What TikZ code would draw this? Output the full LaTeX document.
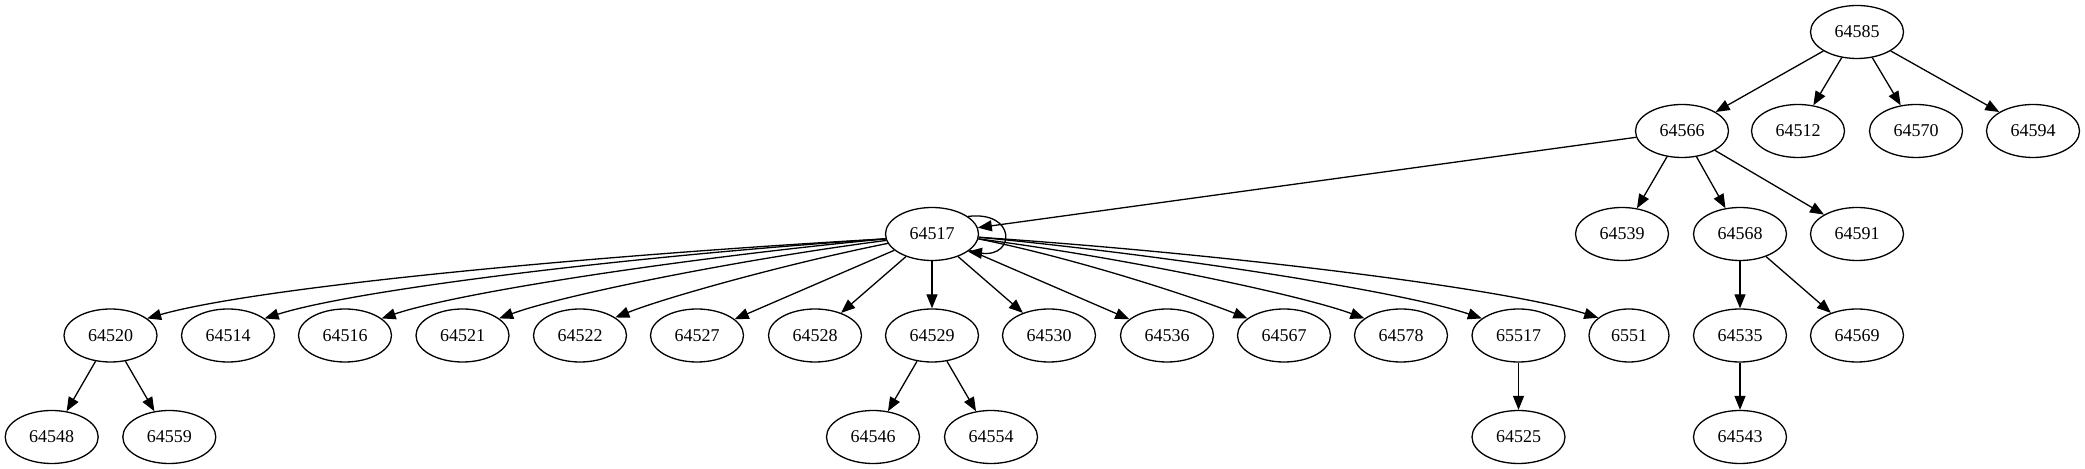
\documentclass[tikz,border=0pt]{standalone}
\usepackage{fontspec}
\setmainfont{Liberation Serif}
\usetikzlibrary{arrows.meta,shapes.geometric}
\begin{document}
\begin{tikzpicture}[x=0.5pt,y=-0.5pt,
  nd/.style={draw, ellipse, line width=0.65pt, minimum width=46.5pt, minimum height=26.5pt, inner sep=0pt, font=\fontsize{9}{10}\selectfont},
  ndn/.style={nd, minimum width=40pt},
  edge/.style={line width=0.65pt, -{Triangle[length=7pt,width=5.5pt]}}]
\fill[white] (0,0) rectangle (2085,469);
\useasboundingbox (0,0) rectangle (2085,469);
% rank 1
\node[nd] (n64585) at (1857,32) {64585};
% rank 2
\node[nd] (n64566) at (1682,131) {64566};
\node[nd] (n64512) at (1798,131) {64512};
\node[nd] (n64570) at (1916,131) {64570};
\node[nd] (n64594) at (2033,131) {64594};
% rank 3
\node[nd] (n64517) at (932,234) {64517};
\node[nd] (n64539) at (1622,234) {64539};
\node[nd] (n64568) at (1740,234) {64568};
\node[nd] (n64591) at (1857,234) {64591};
% rank 4
\node[nd] (n64520) at (110.5,335.5) {64520};
\node[nd] (n64514) at (228,335.5) {64514};
\node[nd] (n64516) at (345,335.5) {64516};
\node[nd] (n64521) at (462.5,335.5) {64521};
\node[nd] (n64522) at (580,335.5) {64522};
\node[nd] (n64527) at (697,335.5) {64527};
\node[nd] (n64528) at (815,335.5) {64528};
\node[nd] (n64529) at (932,335.5) {64529};
\node[nd] (n64530) at (1049,335.5) {64530};
\node[nd] (n64536) at (1167,335.5) {64536};
\node[nd] (n64567) at (1284,335.5) {64567};
\node[nd] (n64578) at (1401,335.5) {64578};
\node[nd] (n65517) at (1518.5,335.5) {65517};
\node[ndn] (n6551) at (1629,335.5) {6551};
\node[nd] (n64535) at (1740,335.5) {64535};
\node[nd] (n64569) at (1857,335.5) {64569};
% rank 5
\node[nd] (n64548) at (51.7,437) {64548};
\node[nd] (n64559) at (169.3,437) {64559};
\node[nd] (n64546) at (873,437) {64546};
\node[nd] (n64554) at (991,437) {64554};
\node[nd] (n64525) at (1518.5,437) {64525};
\node[nd] (n64543) at (1740,437) {64543};
% straight edges
\draw[edge] (n64585) -- (n64566);
\draw[edge] (n64585) -- (n64512);
\draw[edge] (n64585) -- (n64570);
\draw[edge] (n64585) -- (n64594);
\draw[edge] (n64566) -- (n64517);
\draw[edge] (n64566) -- (n64539);
\draw[edge] (n64566) -- (n64568);
\draw[edge] (n64566) -- (n64591);
\draw[edge] (n64568) -- (n64535);
\draw[edge] (n64568) -- (n64569);
\draw[edge] (n64535) -- (n64543);
\draw[edge] (n65517) -- (n64525);
\draw[edge] (n64520) -- (n64548);
\draw[edge] (n64520) -- (n64559);
\draw[edge] (n64529) -- (n64546);
\draw[edge] (n64529) -- (n64554);
\draw[edge] (n64517) -- (n64527);
\draw[edge] (n64517) -- (n64528);
\draw[edge] (n64517) -- (n64529);
\draw[edge] (n64517) -- (n64530);
\draw[edge] (n64517) -- (n64536);
% curved edges to the left
\draw[edge] (n64517.186) .. controls +(-285,16) and +(112,-32) .. (n64520.25);
\draw[edge] (n64517.186) .. controls +(-240,16) and +(95,-30) .. (n64514.25);
\draw[edge] (n64517.186) .. controls +(-190,18) and +(80,-27) .. (n64516.25);
\draw[edge] (n64517.188) .. controls +(-140,18) and +(65,-24) .. (n64521.25);
\draw[edge] (n64517.192) .. controls +(-100,20) and +(50,-20) .. (n64522.27);
% curved edges to the right
\draw[edge] (n64517.-6) .. controls +(100,20) and +(-50,-20) .. (n64567.155);
\draw[edge] (n64517.-6) .. controls +(140,18) and +(-65,-24) .. (n64578.155);
\draw[edge] (n64517.-4) .. controls +(190,18) and +(-80,-27) .. (n65517.155);
\draw[edge] (n64517.-4) .. controls +(240,16) and +(-95,-30) .. (n6551.150);
% self loop
\draw[edge] (n64517.26) .. controls +(48,-6) and +(48,6) .. (n64517.-26);
\end{tikzpicture}
\end{document}
